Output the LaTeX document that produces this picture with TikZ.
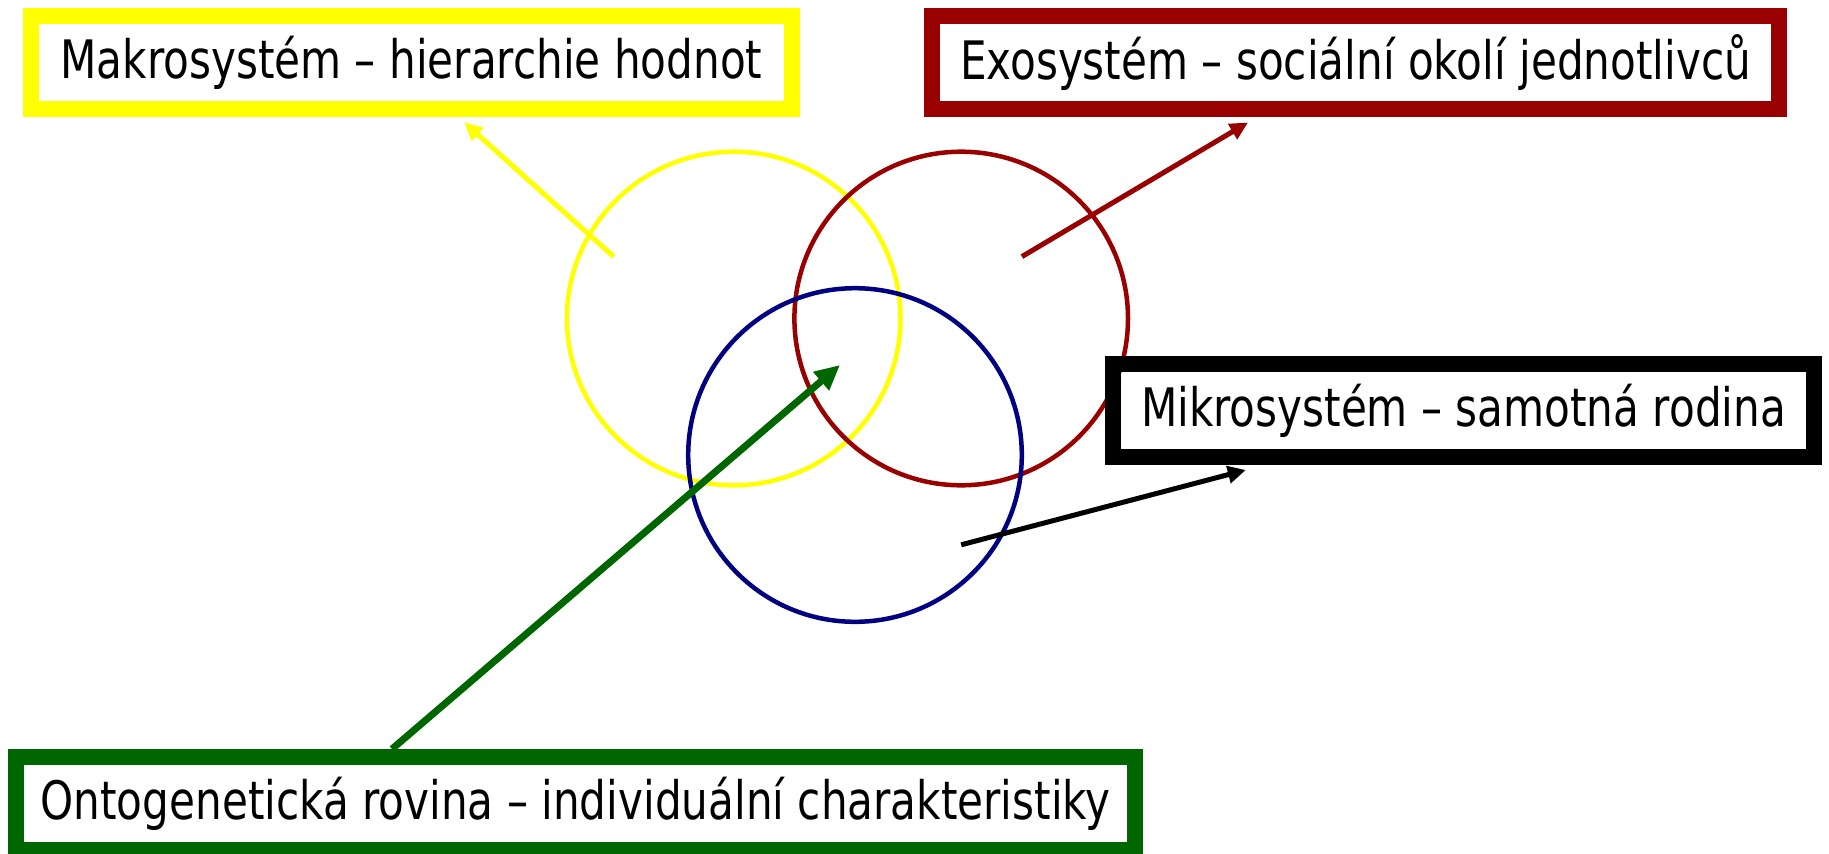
\documentclass[tikz,border=0pt]{standalone}
\usepackage{fontspec}
\setmainfont{DejaVu Sans}[FakeStretch=0.795]
\usetikzlibrary{arrows.meta}
\definecolor{cyel}{RGB}{255,255,0}
\definecolor{cred}{RGB}{153,0,0}
\definecolor{cblue}{RGB}{0,0,128}
\definecolor{cgreen}{RGB}{0,102,0}
\begin{document}
\begin{tikzpicture}[x=1pt,y=-1pt,
  labelbox/.style={draw=#1, line width=16pt, inner sep=0pt, minimum height=93pt,
    font=\fontsize{53}{58}\selectfont, text=black},
  ring/.style={line width=4.5pt},
  pointer/.style={line width=5pt, -{Triangle[length=18pt,width=17pt]}}]
\useasboundingbox (0,0) rectangle (1829,854);
% circles
\draw[ring, cyel] (733.7,318.5) circle[radius=166.8pt];
\draw[ring, cred] (961.2,318.5) circle[radius=166.8pt];
\draw[ring, cblue] (855,455) circle[radius=166.8pt];
% label boxes
\node[labelbox=cyel, minimum width=761pt] (makro) at (411.5,62.5) {Makrosystém – hierarchie hodnot};
\node[labelbox=cred, minimum width=847pt] (exo) at (1355.5,62.5) {Exosystém – sociální okolí jednotlivců};
\node[labelbox=black, minimum width=701pt] (mikro) at (1463.5,410.5) {Mikrosystém – samotná rodina};
\node[labelbox=cgreen, minimum width=1119pt] (onto) at (575.5,803.5) {Ontogenetická rovina – individuální charakteristiky};
% connector ends
\coordinate (ys) at (613.6,256.6);
\coordinate (yt) at (464.3,122.5);
\coordinate (rs) at (1021.9,256.6);
\coordinate (rt) at (1248,122.5);
\coordinate (bs) at (961.2,544.8);
\coordinate (bt) at (1245.8,470);
\coordinate (gs) at (392,749);
\coordinate (gt) at (840,365);
% arrows
\draw[pointer, cyel] (ys) -- (yt);
\draw[pointer, cred] (rs) -- (rt);
\draw[pointer, black] (bs) -- (bt);
\draw[cgreen, line width=7pt, -{Triangle[length=25pt,width=23pt]}] (gs) -- (gt);
\end{tikzpicture}
\end{document}
